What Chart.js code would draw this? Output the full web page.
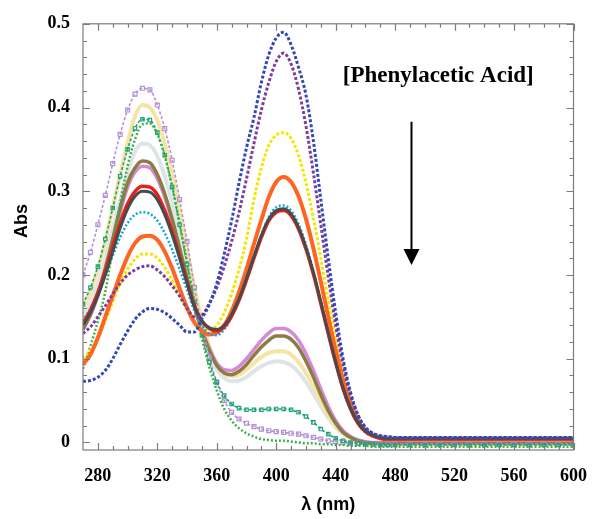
<!DOCTYPE html>
<html>
<head>
<meta charset="utf-8">
<script src="https://cdn.jsdelivr.net/npm/chart.js@4.4.0/dist/chart.umd.min.js"></script>
<style>
  body { margin: 0; background: #fff; }
</style>
</head>
<body>
<canvas id="grafico" width="603" height="519"></canvas>
<script>
  // wavelength grid (nm)
  const wavelengths = [270,275,280,285,290,295,300,305,310,315,320,325,330,335,340,345,350,355,360,365,370,375,380,385,390,395,400,405,410,415,420,425,430,435,440,445,450,455,460,465,470,475,480,
    490,500,510,520,530,540,550,560,570,580,590,600];

  const xTicks = [280, 320, 360, 400, 440, 480, 520, 560, 600];
  const yTicks = [0, 0.1, 0.2, 0.3, 0.4, 0.5];

  // absorbance spectra, lowest to highest [Phenylacetic Acid]
  const blue = [0.073,0.074,0.078,0.086,0.100,0.117,0.133,0.147,0.156,0.160, 0.159,0.155,0.148,0.140,0.132,0.132,0.148,0.165,0.190,0.225,
    0.265,0.310,0.352,0.388,0.430,0.463,0.483,0.490,0.475,0.448, 0.415,0.360,0.290,0.220,0.155,0.100,0.060,0.033,0.018,0.011, 0.008,0.007,0.006,
    0.006,0.006,0.006,0.006,0.006,0.006,0.006,0.006,0.006,0.006,0.006,0.006];
  const purple = [0.130,0.138,0.150,0.163,0.177,0.190,0.200,0.206,0.210,0.211, 0.206,0.198,0.187,0.175,0.160,0.150,0.152,0.166,0.185,0.210,
    0.240,0.275,0.315,0.357,0.397,0.430,0.455,0.465,0.452,0.422, 0.378,0.322,0.260,0.198,0.140,0.092,0.056,0.032,0.018,0.011, 0.008,0.007,0.006,
    0.006,0.006,0.006,0.006,0.006,0.006,0.006,0.006,0.006,0.006,0.006,0.006];
  const yellow = [0.100,0.110,0.125,0.145,0.168,0.190,0.207,0.219,0.225,0.225, 0.220,0.209,0.193,0.175,0.158,0.145,0.137,0.134,0.140,0.155,
    0.178,0.207,0.243,0.290,0.328,0.355,0.367,0.370,0.363,0.343, 0.310,0.268,0.220,0.170,0.123,0.082,0.050,0.028,0.015,0.009, 0.006,0.005,0.005,
    0.004,0.004,0.004,0.004,0.004,0.004,0.004,0.004,0.004,0.004,0.004,0.004];
  const orange = [0.093,0.105,0.125,0.150,0.175,0.200,0.222,0.238,0.246,0.247, 0.242,0.228,0.208,0.184,0.161,0.143,0.133,0.129,0.131,0.140,
    0.157,0.180,0.207,0.237,0.266,0.293,0.311,0.317,0.311,0.294, 0.267,0.232,0.192,0.150,0.110,0.074,0.046,0.026,0.014,0.008, 0.005,0.004,0.004,
    0.004,0.004,0.004,0.004,0.004,0.004,0.004,0.004,0.004,0.004,0.004,0.004];
  const cyan = [0.145,0.160,0.178,0.200,0.223,0.245,0.262,0.272,0.275,0.273, 0.265,0.250,0.230,0.207,0.182,0.157,0.139,0.130,0.128,0.135,
    0.150,0.171,0.196,0.222,0.248,0.269,0.281,0.283,0.277,0.261, 0.236,0.205,0.169,0.131,0.095,0.063,0.039,0.022,0.012,0.007, 0.005,0.004,0.004,
    0.004,0.004,0.004,0.004,0.004,0.004,0.004,0.004,0.004,0.004,0.004,0.004];
  const darkGray = [0.140,0.155,0.175,0.200,0.228,0.256,0.279,0.294,0.300,0.299, 0.290,0.272,0.248,0.220,0.190,0.162,0.145,0.137,0.135,0.140,
    0.153,0.172,0.196,0.222,0.247,0.267,0.277,0.279,0.273,0.257, 0.233,0.203,0.168,0.131,0.096,0.065,0.041,0.024,0.014,0.009, 0.006,0.005,0.005,
    0.005,0.005,0.005,0.005,0.005,0.005,0.005,0.005,0.005,0.005,0.005,0.005];
  const red = [0.142,0.158,0.179,0.205,0.234,0.262,0.285,0.300,0.306,0.305, 0.296,0.277,0.252,0.223,0.192,0.163,0.145,0.136,0.133,0.138,
    0.151,0.170,0.194,0.220,0.245,0.265,0.275,0.277,0.271,0.255, 0.231,0.201,0.166,0.130,0.095,0.064,0.040,0.023,0.013,0.008, 0.005,0.004,0.004,
    0.004,0.004,0.004,0.004,0.004,0.004,0.004,0.004,0.004,0.004,0.004,0.004];
  const pink = [0.135,0.152,0.175,0.205,0.240,0.275,0.305,0.323,0.330,0.328, 0.315,0.293,0.264,0.230,0.195,0.162,0.135,0.112,0.095,0.087,
    0.086,0.091,0.100,0.111,0.122,0.131,0.136,0.136,0.132,0.122, 0.106,0.086,0.064,0.043,0.026,0.014,0.007,0.003,0.001,0.000, 0.000,0.000,0.000,
    -0.001,-0.001,-0.001,-0.001,-0.001,-0.001,-0.001,-0.001,-0.001,-0.001,-0.001,-0.001];
  const olive = [0.135,0.153,0.177,0.208,0.243,0.280,0.310,0.328,0.336,0.334, 0.320,0.297,0.267,0.232,0.196,0.162,0.133,0.110,0.092,0.083,
    0.081,0.085,0.093,0.104,0.114,0.122,0.127,0.127,0.123,0.113, 0.097,0.078,0.057,0.038,0.023,0.012,0.006,0.002,0.000,-0.001, -0.001,-0.001,-0.001,
    -0.001,-0.001,-0.001,-0.001,-0.001,-0.001,-0.001,-0.001,-0.001,-0.001,-0.001,-0.001];
  const paleYellow = [0.160,0.180,0.207,0.240,0.280,0.320,0.358,0.390,0.403,0.400, 0.385,0.357,0.320,0.276,0.230,0.185,0.145,0.115,0.093,0.082,
    0.079,0.081,0.087,0.095,0.102,0.107,0.109,0.109,0.105,0.096, 0.083,0.067,0.049,0.033,0.020,0.011,0.005,0.002,0.000,-0.001, -0.001,-0.001,-0.001,
    -0.001,-0.001,-0.001,-0.001,-0.001,-0.001,-0.001,-0.001,-0.001,-0.001,-0.001,-0.001];
  const paleGray = [0.150,0.167,0.190,0.220,0.255,0.290,0.322,0.347,0.357,0.355, 0.342,0.318,0.286,0.248,0.208,0.168,0.133,0.106,0.087,0.077,
    0.073,0.074,0.078,0.085,0.091,0.095,0.097,0.096,0.092,0.084, 0.072,0.058,0.043,0.029,0.018,0.010,0.005,0.002,0.000,-0.001, -0.002,-0.002,-0.002,
    -0.002,-0.002,-0.002,-0.002,-0.002,-0.002,-0.002,-0.002,-0.002,-0.002,-0.002,-0.002];
  const greenSq = [0.165,0.185,0.210,0.243,0.280,0.318,0.350,0.375,0.386,0.385, 0.370,0.343,0.305,0.260,0.213,0.168,0.128,0.096,0.072,0.056,
    0.046,0.041,0.039,0.039,0.039,0.040,0.040,0.040,0.039,0.036, 0.031,0.024,0.016,0.010,0.005,0.002,0.000,-0.001,-0.002,-0.002, -0.003,-0.003,-0.003,
    -0.003,-0.003,-0.003,-0.003,-0.003,-0.003,-0.003,-0.003,-0.003,-0.003,-0.003,-0.003];
  const lavender = [0.200,0.227,0.260,0.295,0.333,0.368,0.397,0.416,0.423,0.421, 0.403,0.375,0.337,0.290,0.240,0.185,0.140,0.102,0.072,0.050,
    0.036,0.028,0.023,0.019,0.016,0.014,0.013,0.012,0.011,0.010, 0.008,0.006,0.004,0.002,0.001,0.000,-0.001,-0.001,-0.002,-0.002, -0.002,-0.002,-0.002,
    -0.002,-0.002,-0.002,-0.002,-0.002,-0.002,-0.002,-0.002,-0.002,-0.002,-0.002,-0.002];
  const greenDots = [0.088,0.115,0.145,0.180,0.232,0.285,0.330,0.362,0.380,0.381, 0.368,0.342,0.305,0.262,0.215,0.168,0.125,0.090,0.062,0.040,
    0.026,0.017,0.011,0.007,0.004,0.003,0.002,0.002,0.001,0.000, -0.001,-0.001,-0.002,-0.002,-0.003,-0.003,-0.004,-0.004,-0.004,-0.005, -0.005,-0.005,-0.005,
    -0.005,-0.005,-0.005,-0.005,-0.005,-0.005,-0.005,-0.005,-0.005,-0.005,-0.005,-0.005];

  function serie(valores, cor, largura, tracejado) {
    return {
      data: wavelengths.map((x, i) => ({ x: x, y: valores[i] })),
      borderColor: cor,
      borderWidth: largura,
      borderDash: tracejado || [],
      pointRadius: 0,
      cubicInterpolationMode: 'monotone',
      fill: false
    };
  }

  function quadrados(valores, cor, raio) {
    const s = serie(valores, cor, 1.6, [3, 2]);
    s.pointStyle = 'rect';
    s.pointRadius = raio;
    s.pointBorderWidth = 1.2;
    s.pointBorderColor = cor;
    s.pointBackgroundColor = 'rgba(255,255,255,0)';
    return s;
  }

  // frame, inward ticks, y title and the annotation
  const moldura = {
    id: 'moldura',
    afterDraw(chart) {
      const { ctx, chartArea: a, scales: { x, y } } = chart;
      ctx.save();
      ctx.strokeStyle = '#7c7c7c';
      ctx.lineWidth = 1.2;
      ctx.strokeRect(a.left, a.top, a.right - a.left, a.bottom - a.top);
      ctx.beginPath();
      for (let v = 280; v <= 600; v += 10) {
        const px = Math.round(x.getPixelForValue(v)) + 0.5;
        const L = v % 40 === 0 ? 7 : 4;
        ctx.moveTo(px, a.bottom); ctx.lineTo(px, a.bottom - L);
        ctx.moveTo(px, a.top); ctx.lineTo(px, a.top + L);
      }
      for (let i = 0; i <= 25; i++) {
        const py = Math.round(y.getPixelForValue(i * 0.02)) + 0.5;
        const L = i % 5 === 0 ? 7 : 4;
        ctx.moveTo(a.left, py); ctx.lineTo(a.left + L, py);
        ctx.moveTo(a.right, py); ctx.lineTo(a.right - L, py);
      }
      ctx.stroke();

      ctx.fillStyle = '#000';
      ctx.textAlign = 'center';
      ctx.textBaseline = 'middle';

      ctx.save();
      ctx.translate(22, 221);
      ctx.rotate(-Math.PI / 2);
      ctx.font = 'bold 18px "Liberation Sans", Arial, sans-serif';
      ctx.fillText('Abs', 0, 0);
      ctx.restore();

      ctx.font = 'bold 23px "Liberation Serif", "Times New Roman", serif';
      ctx.fillText('[Phenylacetic Acid]', x.getPixelForValue(509), y.getPixelForValue(0.438));

      const ax = x.getPixelForValue(491);
      const y0 = y.getPixelForValue(0.383);
      const y1 = y.getPixelForValue(0.212);
      ctx.strokeStyle = '#000';
      ctx.lineWidth = 2;
      ctx.beginPath();
      ctx.moveTo(ax, y0);
      ctx.lineTo(ax, y1 - 12);
      ctx.stroke();
      ctx.beginPath();
      ctx.moveTo(ax - 8, y1 - 16);
      ctx.lineTo(ax + 8, y1 - 16);
      ctx.lineTo(ax, y1);
      ctx.closePath();
      ctx.fill();
      ctx.restore();
    }
  };

  const ctx = document.getElementById('grafico').getContext('2d');
  const chart = new Chart(ctx, {
    type: 'line',
    data: {
      datasets: [
        serie(blue, '#3348b8', 3, [3, 2]),
        serie(purple, '#7d3f9e', 3, [3, 2]),
        serie(darkGray, '#4a4a4a', 3),
        serie(red, '#e8201c', 3.5),
        serie(cyan, '#12a4e0', 2.5, [2, 2]),
        serie(orange, '#ff6420', 4),
        serie(yellow, '#f4e600', 3, [3, 2]),
        serie(greenDots, '#3cb043', 2.5, [2, 2]),
        quadrados(greenSq, '#1fa27a', 2.4),
        quadrados(lavender, '#b38fd6', 2.8),
        serie(olive, '#8c7b45', 3.5),
        serie(pink, '#d48ad4', 3.5),
        serie(paleYellow, '#f6e4a4', 4),
        serie(paleGray, '#dde5e8', 4)
      ]
    },
    options: {
      responsive: false,
      animation: false,
      layout: { padding: { top: 17, right: 16, left: 0, bottom: 0 } },
      plugins: {
        legend: { display: false },
        tooltip: { enabled: false }
      },
      scales: {
        x: {
          type: 'linear',
          min: 270,
          max: 600,
          afterFit: s => { s.height = 69; },
          afterBuildTicks: s => { s.ticks = xTicks.map(v => ({ value: v })); },
          grid: { display: false, drawTicks: false },
          border: { display: false },
          ticks: {
            color: '#000',
            padding: 16,
            font: { family: '"Liberation Serif", serif', size: 18, weight: 'bold' }
          },
          title: {
            display: true,
            text: 'λ (nm)',
            color: '#000',
            padding: { top: 0, bottom: 3 },
            font: { family: '"Liberation Sans", Arial, sans-serif', size: 18, weight: 'bold' }
          }
        },
        y: {
          min: -0.009,
          max: 0.5,
          afterFit: s => { s.width = 83; },
          afterBuildTicks: s => { s.ticks = yTicks.map(v => ({ value: v })); },
          grid: { display: false, drawTicks: false },
          border: { display: false },
          ticks: {
            color: '#000',
            padding: 13,
            callback: v => v === 0 ? '0' : v.toFixed(1),
            font: { family: '"Liberation Serif", serif', size: 18, weight: 'bold' }
          },
          title: { display: false }
        }
      }
    },
    plugins: [moldura]
  });
</script>
</body>
</html>
